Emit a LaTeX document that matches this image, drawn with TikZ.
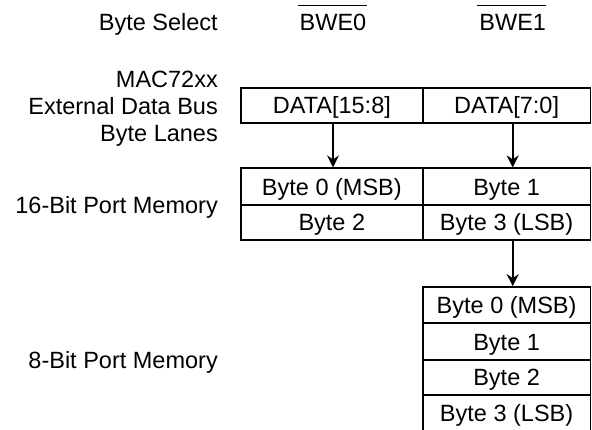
\documentclass[tikz,border=0pt]{standalone}
\usepackage{fontspec}
\setmainfont{Liberation Sans}
\usetikzlibrary{arrows.meta,calc}
\begin{document}
\begin{tikzpicture}[x=1pt,y=-1pt,
  every node/.style={font=\fontsize{23.5}{27}\selectfont, inner sep=0pt},
  cell/.style={draw, line width=1.8pt, rectangle, text height=16.8pt, text depth=0pt},
  lbl/.style={anchor=base east},
  arr/.style={line width=1.8pt, -{Stealth[length=12pt,width=12pt,inset=4pt]}},
  ovl/.style={line width=1.6pt}]
\useasboundingbox (0,0) rectangle (592,429);
\clip (0,0) rectangle (592,429);
% left labels
\node[lbl] (bs) at (218,30) {Byte Select};
\node[lbl] (mac1) at (218,87.3) {MAC72xx};
\node[lbl] (mac2) at (218,114.5) {External Data Bus};
\node[lbl] (mac3) at (218,141.5) {Byte Lanes};
\node[lbl] (p16) at (218,213.3) {16-Bit Port Memory};
\node[lbl] (p8) at (218,368.3) {8-Bit Port Memory};
% byte select signals
\node[anchor=base] (bwe0) at (333,30) {BWE0};
\node[anchor=base] (bwe1) at (512.7,30) {BWE1};
\draw[ovl] ([xshift=-2pt,yshift=8pt]bwe0.north west) -- ([yshift=8pt]bwe0.north east);
\draw[ovl] ([xshift=-2pt,yshift=8pt]bwe1.north west) -- ([yshift=8pt]bwe1.north east);
% data bus lanes
\node[cell, minimum width=181.7pt, minimum height=35pt] (d1) at (331.85,105.5) {DATA[15:8]};
\node[cell, minimum width=167.8pt, minimum height=35pt] (d2) at (506.6,105.5) {DATA[7:0]};
% 16-bit port memory
\node[cell, minimum width=181.7pt, minimum height=36.7pt] (m1) at (331.85,186.65) {Byte 0 (MSB)};
\node[cell, minimum width=167.8pt, minimum height=36.7pt] (m2) at (506.6,186.65) {Byte 1};
\node[cell, minimum width=181.7pt, minimum height=35pt] (m3) at (331.85,222.5) {Byte 2};
\node[cell, minimum width=167.8pt, minimum height=35pt] (m4) at (506.6,222.5) {Byte 3 (LSB)};
% 8-bit port memory
\node[cell, minimum width=167.8pt, minimum height=36.3pt] (e1) at (506.6,305.15) {Byte 0 (MSB)};
\node[cell, minimum width=167.8pt, minimum height=36.7pt] (e2) at (506.6,341.65) {Byte 1};
\node[cell, minimum width=167.8pt, minimum height=35pt] (e3) at (506.6,377.5) {Byte 2};
\node[cell, minimum width=167.8pt, minimum height=36pt] (e4) at (506.6,413) {Byte 3 (LSB)};
% arrows
\draw[arr] (d1.south -| bwe0) -- (m1.north -| bwe0);
\draw[arr] (d2.south -| bwe1) -- (m2.north -| bwe1);
\draw[arr] (m4.south -| bwe1) -- (e1.north -| bwe1);
\end{tikzpicture}
\end{document}
